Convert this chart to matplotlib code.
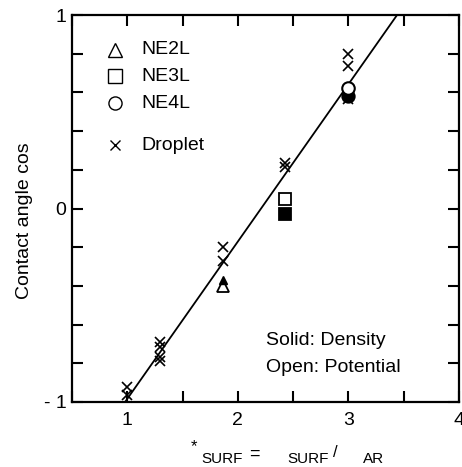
import matplotlib
matplotlib.use("Agg")
import matplotlib.pyplot as plt
from matplotlib.ticker import FixedLocator, FixedFormatter

plt.rcParams['font.family'] = ['Liberation Sans', 'DejaVu Sans']

# ---- data ----
drop_x = [1.0, 1.0, 1.3, 1.3, 1.3, 1.3, 1.87, 1.87, 2.43, 2.43, 3.0, 3.0, 3.0]
drop_y = [-0.92, -0.965, -0.69, -0.715, -0.765, -0.79, -0.20, -0.27, 0.233, 0.215, 0.80, 0.735, 0.565]

ne2l_x = [1.87]
ne2l_open = [-0.40]
ne2l_solid = [-0.37]
ne3l_x = [2.43]
ne3l_open = [0.047]
ne3l_solid = [-0.03]
ne4l_x = [3.0]
ne4l_open = [0.625]
ne4l_solid = [0.58]

fit_x = [0.98, 3.44]
fit_y = [-1.0, 1.0]

x_ticks = [0.5, 1, 1.5, 2, 2.5, 3, 3.5, 4]
x_labels = ['', '1', '', '2', '', '3', '', '4']
y_ticks = [-1, -0.8, -0.6, -0.4, -0.2, 0, 0.2, 0.4, 0.6, 0.8, 1]
y_labels = ['- 1', '', '', '', '', '0', '', '', '', '', '1']

W, H = 462, 467
fig = plt.figure(figsize=(W / 100, H / 100), dpi=100)
ax = fig.add_axes([72 / W, 1 - 402 / H, (459 - 72) / W, (402 - 15) / H])

ax.plot(fit_x, fit_y, color='black', lw=1.3, zorder=2)

ms_x = 7.5
ms_o = 9
ax.plot(drop_x, drop_y, 'x', color='black', ms=ms_x, mew=1.2, zorder=3, linestyle='none')
ax.plot(ne2l_x, ne2l_open, '^', mfc='white', mec='black', ms=ms_o, mew=1.3, zorder=4)
ax.plot(ne2l_x, ne2l_solid, '^', mfc='black', mec='black', ms=ms_o * 0.6, mew=1.0, zorder=5)
ax.plot(ne3l_x, ne3l_open, 's', mfc='white', mec='black', ms=ms_o * 0.95, mew=1.3, zorder=4)
ax.plot(ne3l_x, ne3l_solid, 's', mfc='black', mec='black', ms=ms_o * 0.95, mew=1.3, zorder=4)
ax.plot(ne4l_x, ne4l_solid, 'o', mfc='black', mec='black', ms=ms_o, mew=1.3, zorder=4)
ax.plot(ne4l_x, ne4l_open, 'o', mfc='white', mec='black', ms=ms_o, mew=1.5, zorder=5)

ax.set_xlim(0.5, 4)
ax.set_ylim(-1, 1)

ax.xaxis.set_major_locator(FixedLocator(x_ticks))
ax.xaxis.set_major_formatter(FixedFormatter(x_labels))
ax.yaxis.set_major_locator(FixedLocator(y_ticks))
ax.yaxis.set_major_formatter(FixedFormatter(y_labels))
ax.tick_params(direction='in', length=8, width=1.5, top=True, right=True,
               labelsize=14, color='black')
ax.tick_params(axis='x', pad=7)
ax.tick_params(axis='y', pad=4)
for s in ax.spines.values():
    s.set_linewidth(1.6)

# legend (manual)
fs = 14
leg_rows = [0.9096, 0.842, 0.7726, 0.664]
leg_marks = ['^', 's', 'o', 'x']
leg_names = ['NE2L', 'NE3L', 'NE4L', 'Droplet']
for yy, m, name in zip(leg_rows, leg_marks, leg_names):
    if m == 'x':
        ax.plot([0.111], [yy], m, color='black', ms=ms_x * 0.95, mew=1.0,
                transform=ax.transAxes, clip_on=False)
    else:
        ax.plot([0.111], [yy], m, mfc='white', mec='black', ms=ms_o * 1.05, mew=1.0,
                transform=ax.transAxes, clip_on=False)
    ax.text(0.180, yy, name, transform=ax.transAxes, fontsize=fs, va='center', ha='left')

ax.text(0.501, 0.160, 'Solid: Density', transform=ax.transAxes, fontsize=fs,
        va='center', ha='left')
ax.text(0.501, 0.088, 'Open: Potential', transform=ax.transAxes, fontsize=fs,
        va='center', ha='left')

# axis labels
fig.text(25 / W, 1 - 221 / H, 'Contact angle cos', rotation=90, fontsize=14,
         ha='center', va='center')

def ftxt(x, y, s, size, **kw):
    fig.text(x / W, 1 - y / H, s, fontsize=size, **kw)

ftxt(191, 447, '*', 12, ha='left', va='center')
ftxt(201, 463, 'SURF', 11, ha='left', va='baseline')
ftxt(249, 459, '=', 13, ha='left', va='baseline')
ftxt(287, 463, 'SURF', 11, ha='left', va='baseline')
ftxt(333, 457, '/', 12, ha='left', va='baseline')
ftxt(363, 463, 'AR', 11, ha='left', va='baseline')

fig.savefig('out.png', dpi=100)
